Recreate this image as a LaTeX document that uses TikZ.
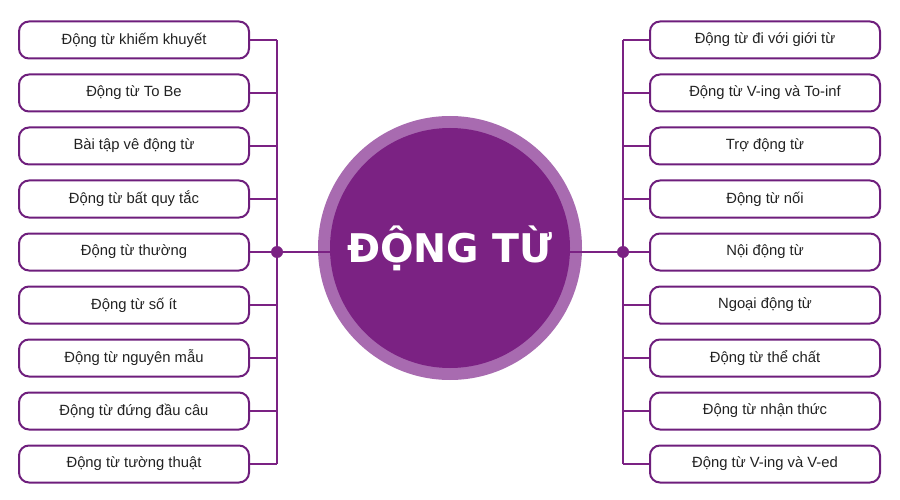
\documentclass[tikz,border=0pt]{standalone}
\usepackage{fontspec}
\setmainfont{Liberation Sans}
\newfontfamily\titlefont{DejaVu Sans}
\definecolor{pdark}{HTML}{6E1E7C}
\definecolor{pmain}{HTML}{7B2283}
\definecolor{plight}{HTML}{A86BB0}
\definecolor{tgray}{HTML}{222222}
\begin{document}
\begin{tikzpicture}[x=1pt,y=-1pt,
  itembox/.style={draw=pdark,line width=2pt,rounded corners=10pt,minimum width=230pt,minimum height=37pt,inner sep=0pt,fill=white,font=\fontsize{14.8}{16}\selectfont,text=tgray},
  stub/.style={draw=pmain,line width=1.1pt},
  spine/.style={draw=pmain,line width=1.1pt},
  hub/.style={circle,fill=pmain,minimum size=12pt,inner sep=0pt}]
\useasboundingbox (0,0) rectangle (900,500);
% central circle
\node[circle,fill=plight,minimum size=264pt,inner sep=0pt] (outer) at (450,248) {};
\node[circle,fill=pmain,minimum size=240pt,inner sep=0pt,text=white,font=\titlefont\bfseries\fontsize{39.5}{44}\selectfont] (inner) at (450,248) {ĐỘNG TỪ};
% spines
\coordinate (ltop) at (277,40);
\coordinate (lbot) at (277,464);
\coordinate (rtop) at (623,40);
\coordinate (rbot) at (623,464);
\coordinate (hlc) at (277,252);
\coordinate (hrc) at (623,252);
\draw[spine] (ltop) -- (lbot);
\draw[spine] (rtop) -- (rbot);
\draw[draw=pmain,line width=2.2pt] (hlc) -- (inner.west |- hlc);
\draw[draw=pmain,line width=2.2pt] (hrc) -- (inner.east |- hrc);
% hubs
\node[hub] (hl) at (hlc) {};
\node[hub] (hr) at (hrc) {};
% left items
\foreach \i/\t in {1/{Động từ khiếm khuyết},2/{Động từ To Be},3/{Bài tập vê động từ},4/{Động từ bất quy tắc},5/{Động từ thường},6/{Động từ số ít},7/{Động từ nguyên mẫu},8/{Động từ đứng đầu câu},9/{Động từ tường thuật}}{
  \node[itembox] (L\i) at (134,{40+53*(\i-1)}) {\t};
  \coordinate (LJ\i) at (277,{40+53*(\i-1)});
  \draw[stub] (L\i.east) -- (LJ\i);
}
% right items
\foreach \i/\t in {1/{Động từ đi với giới từ},2/{Động từ V-ing và To-inf},3/{Trợ động từ},4/{Động từ nối},5/{Nội động từ},6/{Ngoại động từ},7/{Động từ thể chất},8/{Động từ nhận thức},9/{Động từ V-ing và V-ed}}{
  \node[itembox] (R\i) at (765,{40+53*(\i-1)}) {\t};
  \coordinate (RJ\i) at (623,{40+53*(\i-1)});
  \draw[stub] (RJ\i) -- (R\i.west);
}
\end{tikzpicture}
\end{document}
